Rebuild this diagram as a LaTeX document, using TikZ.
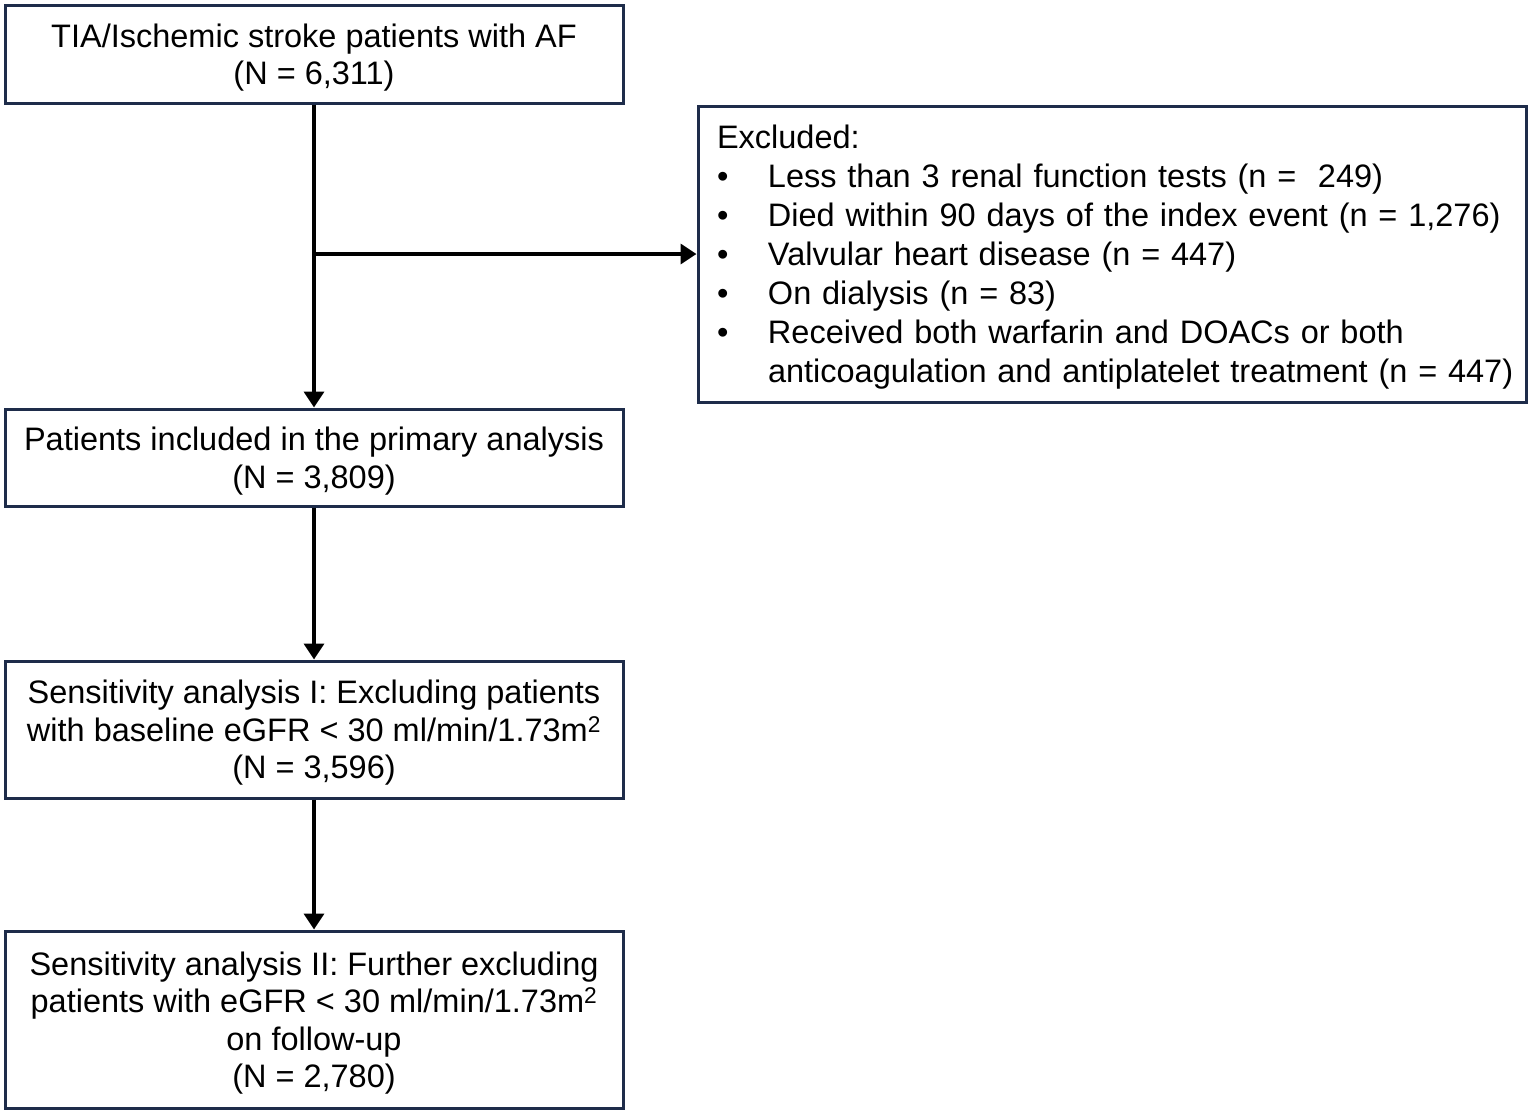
\documentclass[tikz,border=0pt]{standalone}
\usepackage{fontspec}
\setmainfont{Liberation Sans}
\usetikzlibrary{arrows.meta}
\definecolor{navy}{RGB}{30,44,74}
\newcommand{\bitem}{\hspace*{11pt}\makebox[51pt][l]{\textbullet}}
\begin{document}
\begin{tikzpicture}[x=1pt,y=-1pt,
  frame/.style={draw=navy,line width=3pt,inner sep=0pt},
  box/.style={frame,minimum width=618pt,align=center,
    text depth=0pt,font=\fontsize{32.5pt}{37.5pt}\selectfont},
  conn/.style={line width=3.5pt,-{Triangle[width=20pt,length=16pt]}}]
\useasboundingbox (0,0) rectangle (1532,1114);
\node[box,minimum height=98pt] (a) at (314,54) {TIA/Ischemic stroke patients with AF\\(N = 6,311)};
\node[box,minimum height=97pt] (b) at (314,457.5) {Patients included in the primary analysis\\(N = 3,809)};
\node[box,minimum height=137pt] (c) at (314,729.5) {Sensitivity analysis I: Excluding patients\\with baseline eGFR < 30 ml/min/1.73m\textsuperscript{2}\\(N = 3,596)};
\node[box,minimum height=177pt] (d) at (314,1019.5) {Sensitivity analysis II: Further excluding\\patients with eGFR < 30 ml/min/1.73m\textsuperscript{2}\\on follow-up\\(N = 2,780)};
\node[frame,minimum width=828pt,minimum height=296pt,align=left,text width=812pt,
  font=\fontsize{32.5pt}{39pt}\selectfont] (e) at (1112,254) {%
\rule{0pt}{30pt}\hspace*{11pt}Excluded:\\
\bitem Less than 3 renal function tests (n = \ 249)\\
\bitem Died within 90 days of the index event (n = 1,276)\\
\bitem Valvular heart disease (n = 447)\\
\bitem On dialysis (n = 83)\\
\bitem Received both warfarin and DOACs or both\\
\hspace*{62pt}anticoagulation and antiplatelet treatment (n = 447)};
\coordinate (j) at (a.south |- e.west);
\draw[conn] (a.south) -- (b.north);
\draw[conn] (j) -- (e.west);
\draw[conn] (b.south) -- (c.north);
\draw[conn] (c.south) -- (d.north);
\end{tikzpicture}
\end{document}
